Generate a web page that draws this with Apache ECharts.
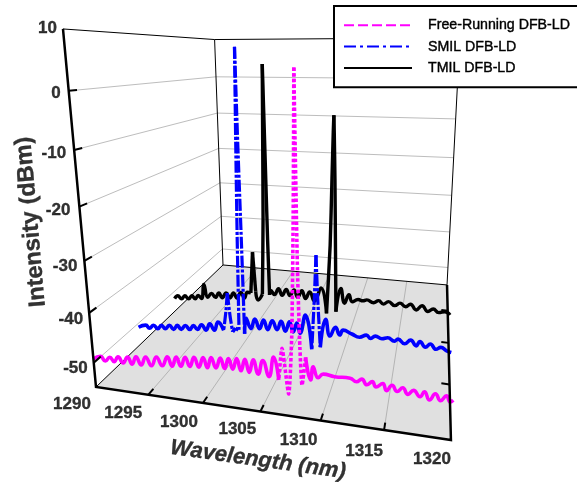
<!DOCTYPE html>
<html><head><meta charset="utf-8">
<style>html,body{margin:0;padding:0;background:#fff}#c{width:577px;height:484px}</style>
<script src="https://cdn.jsdelivr.net/npm/echarts@6/dist/echarts.min.js"></script>
</head><body><div id="c"></div>
<script>
// ---------- data ----------
const wavelengthTicks = [1290,1295,1300,1305,1310,1315,1320];
const intensityTicks = [10,0,-10,-20,-30,-40,-50];
const depthTicks = [0.25,0.5,0.75];
const seriesNames = ['Free-Running DFB-LD','SMIL DFB-LD','TMIL DFB-LD'];

const magentaWl = [1290,1290.7,1291.15,1291.6,1292,1292.4,1292.85,1293.3,1293.7,1294.1,1294.55,1295,1295.5,1296,1296.5,1297,1297.4,1297.8,1298.2,1298.6,1299,1299.4,1299.8,1300.2,1300.55,1300.9,1301.3,1301.7,1302.05,1302.4,1302.75,1303.1,1303.45,1303.8,1304.15,1304.5,1304.9,1305.3,1305.8,1306.2,1306.6,1306.9,1307.4,1307.7,1307.9,1308,1308.05,1308.1,1308.2,1308.35,1308.5,1308.8,1309.2,1309.4,1309.8,1310.2,1311.1,1312.3,1312.8,1313.2,1313.6,1314,1314.3,1314.8,1315.1,1315.5,1315.9,1316.3,1316.7,1317.1,1317.6,1317.9,1318.3,1318.7,1319.1,1319.5,1319.8,1320];
const magentaDb = [-49.2,-48.5,-49.3,-48.4,-49.2,-48.1,-49.2,-47.9,-49.2,-47.6,-49.1,-47.4,-49,-47.1,-48.7,-46.8,-48.5,-46.6,-48.3,-46.4,-48.1,-46.2,-48,-46,-47.9,-45.8,-47.7,-45.7,-47.6,-45.6,-47.5,-45.4,-47.6,-45.3,-47.7,-45.2,-47.8,-45.1,-48,-44.2,-48.4,-42.4,-50.8,-40,-20,-5,4,-8,-28,-42,-48.8,-43.5,-47.6,-45.1,-47,-46.2,-46.4,-46.3,-46.8,-46.2,-47.1,-46.4,-47.3,-46.5,-47.7,-46.6,-47.6,-46.8,-47.85,-47,-48,-47,-48.35,-47.1,-48.2,-47.2,-48.2,-47.8];

const blueWl = [1290,1290.8,1291.2,1291.65,1292.1,1292.5,1292.9,1293.35,1293.8,1294.2,1294.6,1295.05,1295.5,1295.9,1296.3,1296.75,1297.2,1297.6,1298.05,1298.45,1299,1299.3,1299.5,1299.7,1299.9,1300.2,1300.55,1300.65,1300.8,1300.95,1300.98,1301.05,1301.1,1301.3,1301.75,1302.15,1302.6,1303,1303.4,1303.85,1304.3,1304.7,1305.1,1305.5,1305.85,1306.2,1306.5,1307,1307.6,1307.85,1308,1308.15,1308.4,1308.9,1309.3,1309.8,1310.2,1310.5,1311.3,1312,1312.6,1313,1313.4,1314,1314.5,1315.1,1315.4,1316,1316.5,1317,1317.3,1317.8,1318.2,1318.7,1319.1,1319.6,1320];
const blueDb = [-50.9,-50.2,-50.8,-50,-50.7,-49.8,-50.5,-49.6,-50.4,-49.4,-50.2,-49.2,-50,-49,-49.8,-48.6,-49.7,-48.2,-49.5,-47.6,-49.3,-45,-41,-46,-49.4,-48.5,-49,-30,-10,7.3,-10,-30,-49.5,-46.05,-48.2,-46,-48,-46,-48,-46,-47.8,-45.9,-47.9,-45.8,-47.9,-45.9,-48,-44,-51.2,-40,-31.4,-40,-50.5,-44.4,-47.85,-45.9,-47.4,-46.3,-46.9,-47.4,-46.8,-47.4,-46.8,-47.2,-46.85,-47.4,-46.9,-47.7,-46.8,-47.85,-46.9,-47.9,-47.15,-48.1,-47.6,-48.15,-48.4];

const blackWl = [1290.2,1290.6,1291.05,1291.45,1291.9,1292.3,1292.7,1293.05,1293.45,1293.8,1294.2,1294.65,1295.1,1295.5,1295.9,1296.35,1296.8,1297.2,1297.6,1298.05,1298.45,1298.8,1299.2,1299.5,1299.75,1300,1300.5,1300.75,1300.9,1301,1301.1,1301.2,1301.3,1301.45,1301.85,1302.3,1302.7,1303.15,1303.55,1304,1304.4,1304.85,1305.25,1305.7,1306.2,1306.9,1307.5,1307.85,1308,1308.1,1308.15,1308.2,1308.3,1308.4,1308.5,1309,1309.4,1309.85,1310.2,1310.8,1311.3,1311.7,1312.4,1312.9,1313.4,1313.9,1314.55,1315.05,1315.65,1316.1,1316.7,1317.25,1317.85,1318.35,1318.9,1319.5,1320];
const blackDb = [-51.4,-50.6,-51.3,-50.4,-51.1,-50.2,-50.9,-50,-50.7,-47,-50.2,-49.1,-50,-48.8,-49.9,-48.6,-49.7,-48.4,-49.6,-48.1,-49.4,-47.9,-48,-38,-47.5,-49.55,-48,-30,-10,4,-15,-35,-48,-46.9,-47.8,-46.3,-47.8,-46.3,-47.7,-46.2,-47.9,-46.2,-48,-46.3,-48.4,-45.1,-51.1,-35,-20,-10,-6.4,-10,-20,-35,-50.45,-44.75,-48.2,-46.1,-47.7,-47,-47.2,-46.9,-47.4,-46.8,-47.5,-46.8,-47.6,-46.9,-47.6,-46.9,-48.1,-47,-48.2,-47.5,-48.2,-47.85,-48.5];

// ---------- scene: one pinhole camera maps (wavelength, depth, intensity) to the page ----------
const camX = [292.8, 256.8, -41.2, 96];
const camY = [-7.7, 32.2, -361.8, 387];
const camW = [-0.1378, 0.582, -0.13, 1];
const intensityFloor = -55, intensityTop = 10;
function project(wl, depth, db){
  const u=(wl-1290)/30, w=(db-intensityFloor)/(intensityTop-intensityFloor);
  const d=camW[0]*u+camW[1]*depth+camW[2]*w+camW[3];
  return [(camX[0]*u+camX[1]*depth+camX[2]*w+camX[3])/d,(camY[0]*u+camY[1]*depth+camY[2]*w+camY[3])/d];
}
const series=[];
function wire(points,color,width,z){
  series.push({type:'line',data:points,symbol:'none',silent:true,animation:false,clip:false,z:z,
    lineStyle:{color:color,width:width,cap:'butt',join:'miter'}});
}
// floor
const floorCorners=[[1290,0],[1320,0],[1320,1],[1290,1]];
series.push({type:'custom',silent:true,animation:false,clip:false,z:1,data:[[0,0]],
  renderItem:(p,api)=>({type:'polygon',
    shape:{points:floorCorners.map(c=>api.coord(project(c[0],c[1],intensityFloor)))},
    style:{fill:'#e0e0e0'}})});
// gridlines
const gridColor='#bdbdbd';
intensityTicks.slice(1).forEach(t=>{
  wire([project(1290,0,t),project(1290,1,t),project(1320,1,t)],gridColor,1,2);
});
wavelengthTicks.slice(1,-1).forEach(t=>{
  wire([project(t,0,intensityFloor),project(t,1,intensityFloor)],'#b4b4b4',1,2);
});
// thin box edges
wire([project(1290,0,intensityFloor),project(1290,1,intensityFloor),project(1320,1,intensityFloor)],'#000',1,3);
wire([project(1290,1,intensityFloor),project(1290,1,intensityTop),project(1320,1,intensityTop)],'#000',1,3);
wire([project(1290,0,intensityTop),project(1290,1,intensityTop)],'#000',1,3);
wire([project(1320,1,intensityFloor),project(1320,1,intensityTop)],'#000',1,3);
// thick axes
wire([project(1290,0,intensityTop),project(1290,0,intensityFloor),project(1320,0,intensityFloor),project(1320,1,intensityFloor)],'#000',2.5,9);
// ticks
intensityTicks.slice(1).forEach(t=>wire([project(1290,0,t),project(1290,0.035,t)],'#000',2,9));
wavelengthTicks.slice(1,-1).forEach(t=>wire([project(t,0,intensityFloor),project(t,0.03,intensityFloor)],'#000',2,9));
depthTicks.forEach(d=>wire([project(1320,d,intensityFloor),project(1319.3,d,intensityFloor)],'#000',2,9));

// traces: round ripple; the peak stretches inside peakRanges use a finer line and the peak's
// dash pattern, both branches starting at the highest point so their dashes coincide
function trace(name,wl,db,depth,color,width,peakWidth,peakRanges,dash,z){
  const base={type:'line',name:name,symbol:'none',silent:true,animation:false,clip:false,z:z,connectNulls:false};
  const ripple=[];
  wl.forEach((x,i)=>{
    if(peakRanges.some(r=>x>r[0]&&x<r[1])){
      if(ripple.length&&ripple[ripple.length-1][0]!==null) ripple.push([null,null]);
    } else ripple.push(project(x,depth,db[i]));
  });
  series.push(Object.assign({},base,{smooth:0.5,data:ripple,lineStyle:{color:color,width:width}}));
  peakRanges.forEach(r=>{
    const pts=[],vals=[];
    wl.forEach((x,i)=>{if(x>=r[0]&&x<=r[1]){pts.push(project(x,depth,db[i]));vals.push(db[i]);}});
    const top=vals.indexOf(Math.max(...vals));
    [pts.slice(0,top+1).reverse(),pts.slice(top)].forEach(branch=>{
      series.push(Object.assign({},base,{smooth:0.2,data:branch,lineStyle:{color:color,width:peakWidth,type:dash,cap:'butt'}}));
    });
  });
}
trace(seriesNames[2],blackWl,blackDb,0.5,'#000',3.4,3.4,[[1299.2,1299.75],[1300.5,1301.3],[1307.5,1308.5]],'solid',5);
trace(seriesNames[1],blueWl,blueDb,0.25,'#0000ff',3.6,3.2,[[1299,1299.9],[1300.2,1301.1],[1307.6,1308.4]],[12,2,3,2],6);
trace(seriesNames[0],magentaWl,magentaDb,0,'#ff00ff',3.6,3.6,[[1306.6,1308.8]],[3.5,2.2],7);

// tick labels and axis titles as real text
const wavelengthLabelOffset=[[-24,17],[-25,19],[-24,19],[-23,18],[-22,20],[-20,21],[-19,19]];
const intensityLabelOffset=[[-6,-1],[-8,2],[-8,3],[-9,4],[-7,5],[-6,6],[-6,6]];
const tickFont={fontFamily:'"Liberation Sans",Arial,sans-serif',fontWeight:'bold',fontSize:17,color:'#000',textBorderColor:'#000',textBorderWidth:0.35};
function labels(points,extra){
  series.push({type:'scatter',symbol:'circle',symbolSize:1,itemStyle:{color:'transparent'},silent:true,animation:false,clip:false,z:10,data:points,
    label:Object.assign({show:true,position:'inside',formatter:p=>p.value[2]},tickFont,extra)});
}
labels(wavelengthTicks.map((t,i)=>({value:[...project(t,0,intensityFloor),String(t)],label:{offset:wavelengthLabelOffset[i]}})),{align:'center',verticalAlign:'middle'});
labels(intensityTicks.map((t,i)=>({value:[...project(1290,0,t),String(t)],label:{offset:intensityLabelOffset[i]}})),{align:'right',verticalAlign:'middle'});
labels([{value:[31,222,'Intensity (dBm)']}],{fontSize:23.5,rotate:95,align:'center',verticalAlign:'middle'});
labels([{value:[258,460,'Wavelength (nm)']}],{fontSize:22,fontStyle:'italic',rotate:-8,align:'center',verticalAlign:'middle'});

const chart=echarts.init(document.getElementById('c'),null,{renderer:'canvas'});
chart.setOption({
  animation:false,backgroundColor:'#fff',
  grid:{left:0,right:0,top:0,bottom:0},
  xAxis:{type:'value',min:0,max:577,show:false},
  yAxis:{type:'value',min:0,max:484,inverse:true,show:false},
  legend:{left:334,top:6,orient:'vertical',z:20,zlevel:1,selectedMode:false,backgroundColor:'#fff',borderColor:'#000',borderWidth:2,borderRadius:0,
    padding:[12,22,12,9],itemWidth:68,itemHeight:14,itemGap:7,
    textStyle:{fontFamily:'"Liberation Sans",Arial,sans-serif',fontSize:14.2,color:'#000',textBorderColor:'#000',textBorderWidth:0.4,padding:[0,0,0,11]},
    data:[
      {name:seriesNames[0],itemStyle:{opacity:0},lineStyle:{color:'#ff00ff',width:2,type:[10,4]}},
      {name:seriesNames[1],itemStyle:{opacity:0},lineStyle:{color:'#0000ff',width:2,type:[12,4,3,4]}},
      {name:seriesNames[2],itemStyle:{opacity:0},lineStyle:{color:'#000',width:2,type:'solid'}}
    ]},
  series:series
});
</script></body></html>
